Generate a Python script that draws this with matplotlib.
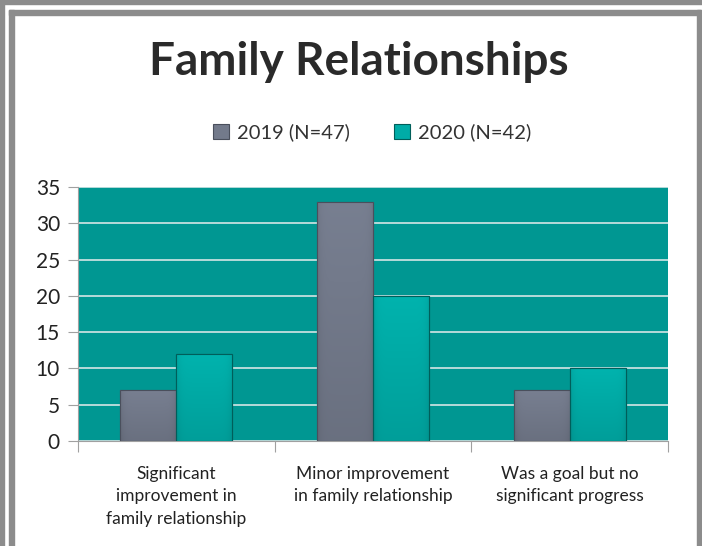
import numpy as np
import matplotlib
matplotlib.use("Agg")
import matplotlib.pyplot as plt
from matplotlib.patches import Rectangle
from matplotlib.colors import to_rgb

# data
categories = ["Significant\nimprovement in\nfamily relationship",
              "Minor improvement\nin family relationship",
              "Was a goal but no\nsignificant progress"]
series_names = ["2019 (N=47)", "2020 (N=42)"]
values_2019 = [7, 33, 7]
values_2020 = [12, 20, 10]
y_ticks = [0, 5, 10, 15, 20, 25, 30, 35]

plt.rcParams['font.family'] = ['Lato', 'DejaVu Sans']

fig = plt.figure(figsize=(7.02, 5.46), dpi=100)

# outer frame lines
gray = "#8c8c8c"
fig.patches.append(Rectangle((0, 0), 4/702, 1, transform=fig.transFigure, color=gray, zorder=0))
fig.patches.append(Rectangle((0, 1-4/546), 1, 4/546, transform=fig.transFigure, color=gray, zorder=0))
fig.patches.append(Rectangle((9/702, 0), 5/702, 1-10/546, transform=fig.transFigure, color=gray, zorder=0))
fig.patches.append(Rectangle((9/702, 1-15/546), 692/702, 5/546, transform=fig.transFigure, color=gray, zorder=0))
fig.patches.append(Rectangle((697/702, 0), 4/702, 1-10/546, transform=fig.transFigure, color=gray, zorder=0))

ax = fig.add_axes([78/702, 1-441/546, 590/702, 254/546])
ax.set_facecolor("#009792")


def shade(bars, base, ax):
    # bevel-ish look: lighter at the top, darker toward the sides
    c = np.array(to_rgb(base))
    for r in bars:
        x0, y0 = r.get_x(), r.get_y()
        bw, bh = r.get_width(), r.get_height()
        yy = np.linspace(0, 1, 60)[:, None]
        xx = np.linspace(-1, 1, 40)[None, :]
        f = 0.92 + 0.12 * yy - 0.08 * xx ** 8
        img = np.clip(c[None, None, :] * f[:, :, None], 0, 1)
        im = ax.imshow(img, extent=[x0, x0 + bw, y0, y0 + bh], origin="lower",
                       aspect="auto", zorder=3.5, interpolation="bilinear")
        im.set_clip_path(r)


x = np.arange(len(categories))
w = 0.285
b1 = ax.bar(x - w/2, values_2019, w, color="#737a8b", edgecolor="#4a4f5c", linewidth=0.8, zorder=3)
b2 = ax.bar(x + w/2, values_2020, w, color="#00aca7", edgecolor="#005e5a", linewidth=0.8, zorder=3)
shade(b1, "#737a8b", ax)
shade(b2, "#00aca7", ax)
for r in list(b1) + list(b2):
    ax.add_patch(Rectangle((r.get_x(), 0), r.get_width(), r.get_height(), fill=False,
                           edgecolor=r.get_edgecolor(), linewidth=0.8, zorder=4))

ax.set_xlim(-0.5, 2.5)
ax.set_ylim(0, 35)
ax.set_yticks(y_ticks)
ax.yaxis.grid(True, color="#d4e6e6", linewidth=1.2, zorder=1)
ax.set_axisbelow(True)

for s in ["top", "right"]:
    ax.spines[s].set_visible(False)
ax.spines["left"].set_color("#a0a0a0")
ax.spines["bottom"].set_color("#a0a0a0")
ax.tick_params(axis="y", length=7, color="#a0a0a0", labelsize=15, pad=6)
ax.set_xticks([-0.5, 0.5, 1.5, 2.5])
ax.set_xticklabels([])
ax.tick_params(axis="x", length=8, color="#a0a0a0")
ax.set_xticks(x, minor=True)
ax.set_xticklabels(categories, minor=True, fontsize=12.5, color="#222222", linespacing=1.5)
ax.tick_params(axis="x", which="minor", length=0, pad=18)
for t in ax.get_yticklabels():
    t.set_color("#222222")

fig.text(0.511, 0.886, "Family Relationships", ha="center", va="center",
         fontsize=33, fontweight="bold", color="#2a2a2a")

leg = fig.legend([b1, b2], series_names, loc="center", bbox_to_anchor=(0.53, 0.757),
                 ncol=2, frameon=False, fontsize=14.5, handlelength=0.8, handleheight=0.8,
                 columnspacing=2.2, handletextpad=0.4)
for t in leg.get_texts():
    t.set_color("#333333")

fig.savefig("out.png", dpi=100)
